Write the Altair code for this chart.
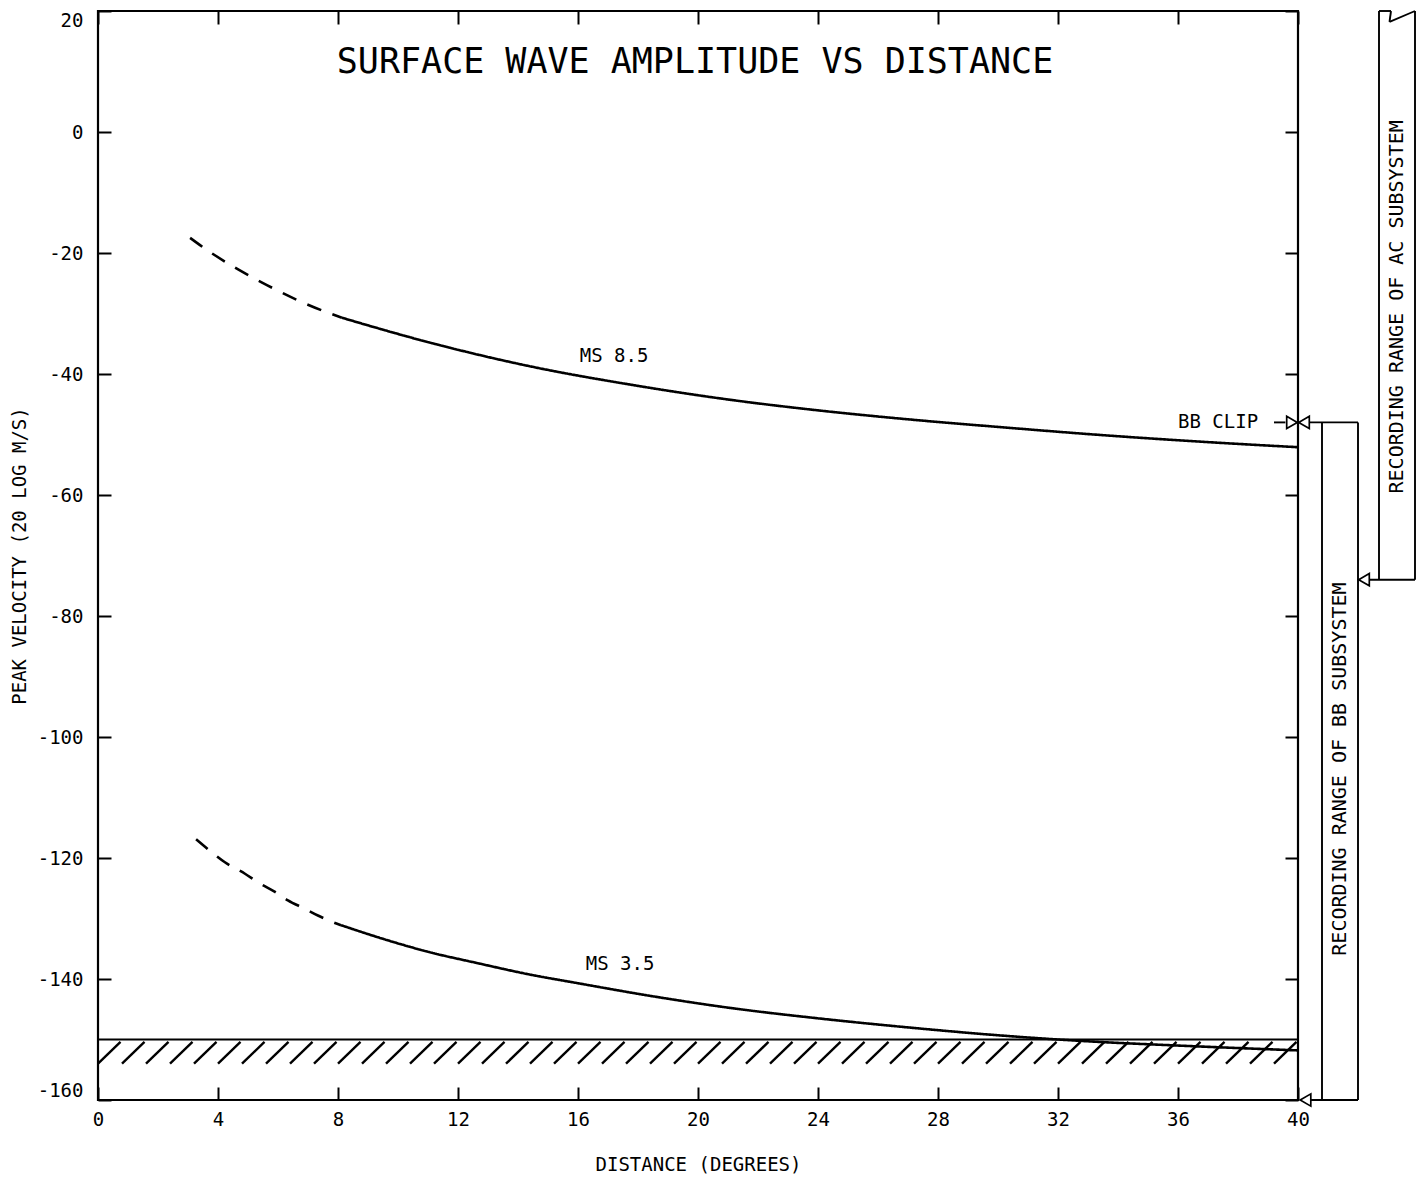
import altair as alt
import pandas as pd

# ---------------- data ----------------
# MS 8.5 curve (dashed part = extrapolated, solid part)
ms85_dash_x = [3.07, 3.63, 4.70, 5.63, 6.70, 7.63, 8.13]
ms85_dash_y = [-17.5, -19.5, -22.8, -25.3, -27.9, -29.8, -30.7]
ms85_x = [8.13, 11.13, 14.47, 17.8, 21.13, 23.8, 26.8, 30.13, 33.47, 36.8, 40.0]
ms85_y = [-30.7, -34.9, -38.8, -41.8, -44.3, -45.9, -47.4, -48.8, -50.1, -51.2, -52.1]

# MS 3.5 curve
ms35_dash_x = [3.27, 3.73, 4.23, 4.90, 5.33, 5.90, 6.33, 6.90, 7.33, 7.83, 8.10]
ms35_dash_y = [-116.9, -118.8, -120.7, -122.6, -124.0, -125.6, -127.0, -128.4, -129.5, -130.6, -131.1]
ms35_x = [8.10, 9.33, 11.0, 12.67, 14.33, 16.0, 18.67, 21.1, 24.0, 27.0, 30.0, 33.0, 36.0, 40.0]
ms35_y = [-131.1, -133.1, -135.5, -137.4, -139.2, -140.7, -143.0, -144.8, -146.5, -148.0, -149.3, -150.3, -151.0, -151.8]

curve_labels = ["MS 8.5", "MS 3.5"]
curve_label_x = [17.2, 17.4]
curve_label_y = [-37.0, -137.5]

x_ticks = [0, 4, 8, 12, 16, 20, 24, 28, 32, 36, 40]
y_ticks = [-160, -140, -120, -100, -80, -60, -40, -20, 0, 20]

noise_floor = -150.0        # top of hatched band
noise_band_bottom = -154.0  # bottom of hatch strokes
hatch_starts = [0.0, 0.8, 1.6, 2.4, 3.2, 4.0, 4.8, 5.6, 6.4, 7.2, 8.0, 8.8, 9.6,
                10.4, 11.2, 12.0, 12.8, 13.6, 14.4, 15.2, 16.0, 16.8, 17.6, 18.4,
                19.2, 20.0, 20.8, 21.6, 22.4, 23.2, 24.0, 24.8, 25.6, 26.4, 27.2,
                28.0, 28.8, 29.6, 30.4, 31.2, 32.0, 32.8, 33.6, 34.4, 35.2, 36.0,
                36.8, 37.6, 38.4, 39.2]

bb_clip = -48.0     # BB clip level
bb_lower = -160.0   # bottom of BB recording range
ac_upper = 20.0     # AC range continues off scale
ac_lower = -74.0    # bottom of AC recording range

title_text = "SURFACE WAVE AMPLITUDE VS DISTANCE"
x_title = "DISTANCE (DEGREES)"
y_title = "PEAK VELOCITY (20 LOG M/S)"
bb_text = "RECORDING RANGE OF BB SUBSYSTEM"
ac_text = "RECORDING RANGE OF AC SUBSYSTEM"

# ---------------- tables ----------------
rows = []
for name, style, xs_, ys_ in [
    ("ms85", "dash", ms85_dash_x, ms85_dash_y),
    ("ms85", "solid", ms85_x, ms85_y),
    ("ms35", "dash", ms35_dash_x, ms35_dash_y),
    ("ms35", "solid", ms35_x, ms35_y),
]:
    for i, (xv, yv) in enumerate(zip(xs_, ys_)):
        rows.append({"seg": name + style, "style": style, "x": xv, "y": yv, "i": i})
curves = pd.DataFrame(rows)

# annotation geometry (in data units, extending beyond the 40-degree edge)
bb_left, bb_right, bb_arrow = 40.8, 42.0, 40.2
ac_left, ac_right, ac_arrow = 42.7, 43.9, 42.2
segs = [
    (bb_arrow + 0.2, bb_clip, bb_right, bb_clip),
    (bb_arrow + 0.2, bb_lower, bb_right, bb_lower),
    (bb_left, bb_clip, bb_left, bb_lower),
    (bb_right, bb_clip, bb_right, bb_lower),
    (ac_left, ac_upper, ac_left, ac_lower),
    (ac_right, ac_upper, ac_right, ac_lower),
    (ac_arrow + 0.2, ac_lower, ac_right, ac_lower),
    (ac_left, ac_upper, 43.1, ac_upper),
    (43.1, ac_upper, 43.05, 18.2),
    (43.05, 18.2, ac_right, ac_upper),
    (39.2, bb_clip, 39.58, bb_clip),
    (0.0, noise_floor, 40.0, noise_floor),
]
segments = pd.DataFrame(segs, columns=["x", "y", "x2", "y2"])

hatch = pd.DataFrame({
    "x": hatch_starts,
    "x2": [h + 0.75 for h in hatch_starts],
    "y": [noise_band_bottom] * len(hatch_starts),
    "y2": [noise_floor - 0.4] * len(hatch_starts),
})

arrows = pd.DataFrame({
    "x": [39.8, bb_arrow, bb_arrow + 0.05, ac_arrow],
    "y": [bb_clip, bb_clip, bb_lower, ac_lower],
    "shape": ["triangle-right", "triangle-left", "triangle-left", "triangle-left"],
})

FONT = "DejaVu Sans Mono"
xs = alt.Scale(domain=[0, 40], nice=False, zero=False)
ys = alt.Scale(domain=[-160, 20], nice=False, zero=False)
num_label = "'' + datum.value"

curve_layer = alt.Chart(curves).mark_line(
    interpolate="monotone", color="black", strokeWidth=2.6
).encode(
    x=alt.X("x:Q", scale=xs, axis=alt.Axis(
        orient="bottom", values=x_ticks, title=x_title, offset=-13, tickSize=13,
        labelPadding=10, titlePadding=26, labelFlush=False, labelExpr=num_label)),
    y=alt.Y("y:Q", scale=ys, axis=alt.Axis(
        orient="left", values=y_ticks, title=y_title, offset=-13, tickSize=13,
        labelPadding=15, titlePadding=8, labelFlush=True, labelExpr=num_label)),
    detail="seg:N",
    order="i:Q",
    strokeDash=alt.StrokeDash("style:N", scale=alt.Scale(
        domain=["dash", "solid"], range=[[15, 12], [1, 0]]), legend=None),
)

seg_layer = alt.Chart(segments).mark_rule(color="black", strokeWidth=1.9).encode(
    x=alt.X("x:Q", scale=xs, axis=alt.Axis(
        orient="top", values=x_ticks, labels=False, title=None, offset=-13, tickSize=13)),
    y=alt.Y("y:Q", scale=ys, axis=alt.Axis(
        orient="right", values=y_ticks, labels=False, title=None, offset=-13, tickSize=13)),
    x2="x2:Q",
    y2="y2:Q",
)

hatch_layer = alt.Chart(hatch).mark_rule(color="black", strokeWidth=2.4).encode(
    x=alt.X("x:Q", scale=xs, axis=None),
    y=alt.Y("y:Q", scale=ys, axis=None),
    x2="x2:Q",
    y2="y2:Q",
)

arrow_layer = alt.Chart(arrows).mark_point(
    filled=False, color="black", size=150, strokeWidth=1.7, opacity=1
).encode(
    x=alt.X("x:Q", scale=xs, axis=None),
    y=alt.Y("y:Q", scale=ys, axis=None),
    shape=alt.Shape("shape:N", scale=None),
)

title_layer = alt.Chart(pd.DataFrame({"t": [title_text], "x": [19.9], "y": [11.6]})).mark_text(
    font=FONT, fontSize=35, color="black", align="center", baseline="middle"
).encode(x=alt.X("x:Q", scale=xs, axis=None), y=alt.Y("y:Q", scale=ys, axis=None), text="t:N")

label_layer = alt.Chart(pd.DataFrame({
    "t": curve_labels, "x": curve_label_x, "y": curve_label_y})).mark_text(
    font=FONT, fontSize=19, color="black", align="center", baseline="middle"
).encode(x=alt.X("x:Q", scale=xs, axis=None), y=alt.Y("y:Q", scale=ys, axis=None), text="t:N")

clip_layer = alt.Chart(pd.DataFrame({"t": ["BB CLIP"], "x": [38.67], "y": [bb_clip]})).mark_text(
    font=FONT, fontSize=19, color="black", align="right", baseline="middle"
).encode(x=alt.X("x:Q", scale=xs, axis=None), y=alt.Y("y:Q", scale=ys, axis=None), text="t:N")

vert_layer = alt.Chart(pd.DataFrame({
    "t": [bb_text, ac_text],
    "x": [(bb_left + bb_right) / 2, (ac_left + ac_right) / 2],
    "y": [-105.3, -28.9]})).mark_text(
    font=FONT, fontSize=20, color="black", align="center", baseline="middle", angle=270
).encode(x=alt.X("x:Q", scale=xs, axis=None), y=alt.Y("y:Q", scale=ys, axis=None), text="t:N")

chart = alt.layer(
    curve_layer, seg_layer, hatch_layer, arrow_layer, title_layer, label_layer,
    clip_layer, vert_layer
).resolve_axis(x="independent", y="independent").properties(
    width=1200, height=1089,
    padding={"left": 98, "top": 11, "right": 129, "bottom": 78},
    autosize=alt.AutoSizeParams(type="none"),
    background="white",
).configure_view(
    stroke="black", strokeWidth=2.2
).configure_axis(
    domain=False, grid=False, tickColor="black", tickWidth=2,
    labelFont=FONT, labelFontSize=19, labelColor="black",
    titleFont=FONT, titleFontSize=19, titleFontWeight="normal", titleColor="black",
)

chart.save("out.html", embed_options={"renderer": "svg", "actions": False})
